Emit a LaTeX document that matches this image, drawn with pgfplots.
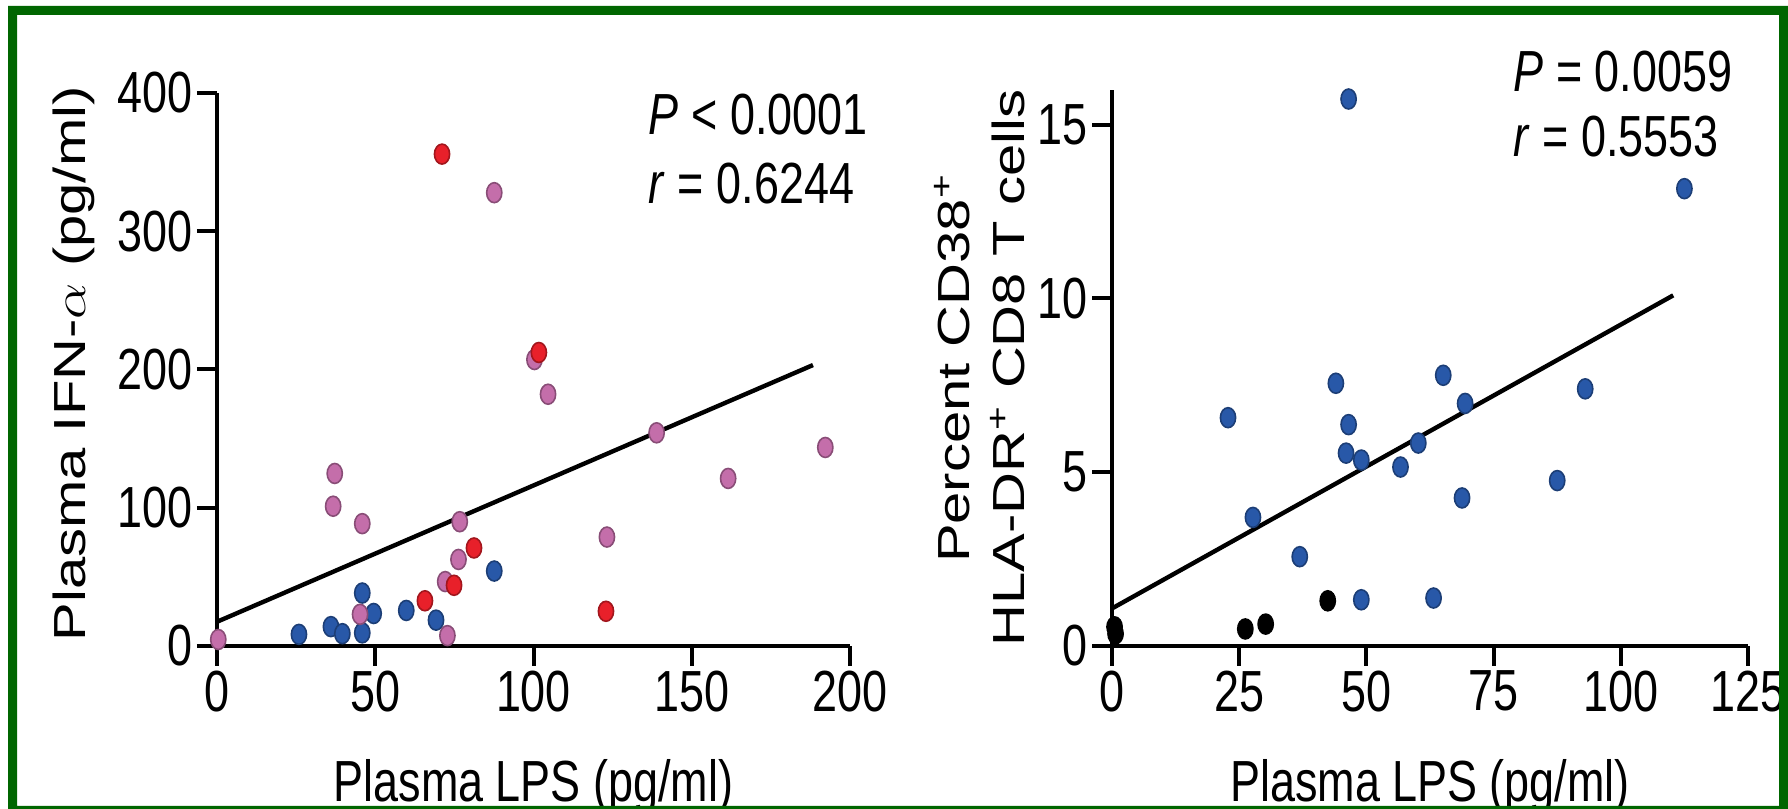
\documentclass[border=0pt]{standalone}
\usepackage{fontspec}
\setmainfont{Liberation Sans}[FakeStretch=0.775]
\newfontfamily\lsfont{Liberation Sans}
\usepackage{pgfplots}
\pgfplotsset{compat=1.18}
\definecolor{bord}{RGB}{0,102,0}
\definecolor{pinkpt}{RGB}{196,110,170}
\definecolor{redpt}{RGB}{232,32,42}
\definecolor{bluept}{RGB}{40,88,168}

\pgfplotstableread{
x y
71.1 355.8
101.7 212.3
81.2 70.9
74.9 43.9
65.7 32.7
122.9 25.1
}\leftred
\pgfplotstableread{
x y
87.6 327.9
100.3 207.2
104.6 182.1
138.9 154.2
192.2 143.6
161.5 121.2
37.2 124.8
36.7 101.1
45.9 88.5
76.7 89.9
123.2 78.8
76.3 62.6
72.1 46.6
45.2 22.9
72.8 7.5
0.4 4.7
}\leftpink
\pgfplotstableread{
x y
87.6 54.2
45.9 38.3
49.5 23.5
59.8 25.7
69.2 18.7
36.0 14.0
39.6 8.9
45.9 9.5
25.9 8.4
}\leftblue
\pgfplotstableread{
x y
46.5 15.74
112.5 13.16
22.8 6.57
44.0 7.56
65.1 7.79
93.0 7.40
69.4 6.98
46.5 6.37
60.2 5.84
46.0 5.55
49.0 5.35
56.7 5.15
87.5 4.76
68.8 4.26
27.7 3.70
36.9 2.57
49.0 1.33
63.2 1.38
}\rightblue
\pgfplotstableread{
x y
42.4 1.30
26.2 0.49
30.2 0.63
0.7 0.35
0.5 0.55
}\rightblack

\pgfplotsset{
  myaxis/.style={
    scale only axis,
    axis lines=left,
    axis line style={-, line width=1pt},
    tick align=outside,
    major tick length=5pt,
    tick style={line width=1pt, black},
    font=\fontsize{14.5}{17}\selectfont,
    /pgf/number format/assume math mode=true,
    clip=false,
    xticklabel style={inner sep=1pt},
    yticklabel style={inner sep=1pt},
  },
  ptstyle/.style={only marks, mark=*, mark size=2.5pt,
    mark options={xscale=0.76, fill=#1, draw=#1!70!black, line width=0.4pt}},
}

\begin{document}
\begin{tikzpicture}
\useasboundingbox (0,0) rectangle (447pt,202.25pt);

% left panel
\begin{axis}[myaxis,
  at={(54.25pt,40.75pt)}, anchor=south west,
  width=158.25pt, height=138.25pt,
  xmin=0, xmax=200, ymin=0, ymax=400,
  xtick={0,50,100,150,200}, ytick={0,100,200,300,400},
  xlabel={Plasma LPS (pg/ml)},
  xlabel style={at={(axis description cs:0.5,-0.281)}, anchor=base},
  ylabel={Plasma IFN-$\alpha$ (pg/ml)},
  ylabel style={font=\lsfont\fontsize{14.5}{17}\selectfont, yscale=0.775,
    at={(axis description cs:-0.226,0.51)}, anchor=center},
]
\addplot[line width=1.1pt, black] coordinates {(0,17.5) (188.3,203.2)};
\addplot[ptstyle=bluept] table {\leftblue};
\addplot[ptstyle=pinkpt] table {\leftpink};
\addplot[ptstyle=redpt] table {\leftred};
\node[anchor=base west, inner sep=0pt] at (axis cs:136.2,370) {\textit{P} < 0.0001};
\node[anchor=base west, inner sep=0pt] at (axis cs:136.2,320) {\textit{r} = 0.6244};
\end{axis}

% right panel
\begin{axis}[myaxis,
  at={(278pt,40.75pt)}, anchor=south west,
  width=159pt, height=139pt,
  xmin=0, xmax=125, ymin=0, ymax=16,
  xtick={0,25,50,75,100,125}, ytick={0,5,10,15},
  xlabel={Plasma LPS (pg/ml)},
  xlabel style={at={(axis description cs:0.5,-0.2795)}, anchor=base},
  ylabel={Percent CD38\textsuperscript{+}\\HLA-DR\textsuperscript{+} CD8 T cells},
  ylabel style={font=\lsfont\fontsize{14.5}{18}\selectfont, align=center, yscale=0.775,
    at={(axis description cs:-0.2075,0.5)}, anchor=center},
]
\addplot[line width=1.1pt, black] coordinates {(0,1.08) (110.3,10.09)};
\addplot[ptstyle=bluept] table {\rightblue};
\addplot[ptstyle=black] table {\rightblack};
\node[anchor=base west, inner sep=0pt] at (axis cs:78.8,15.97) {\textit{P} = 0.0059};
\node[anchor=base west, inner sep=0pt] at (axis cs:78.8,14.1) {\textit{r} = 0.5553};
\end{axis}

% green frame
\fill[bord, even odd rule] (2pt,-1pt) rectangle (448pt,200.75pt)
  (4.25pt,0.75pt) rectangle (444.75pt,198.5pt);
\end{tikzpicture}
\end{document}
